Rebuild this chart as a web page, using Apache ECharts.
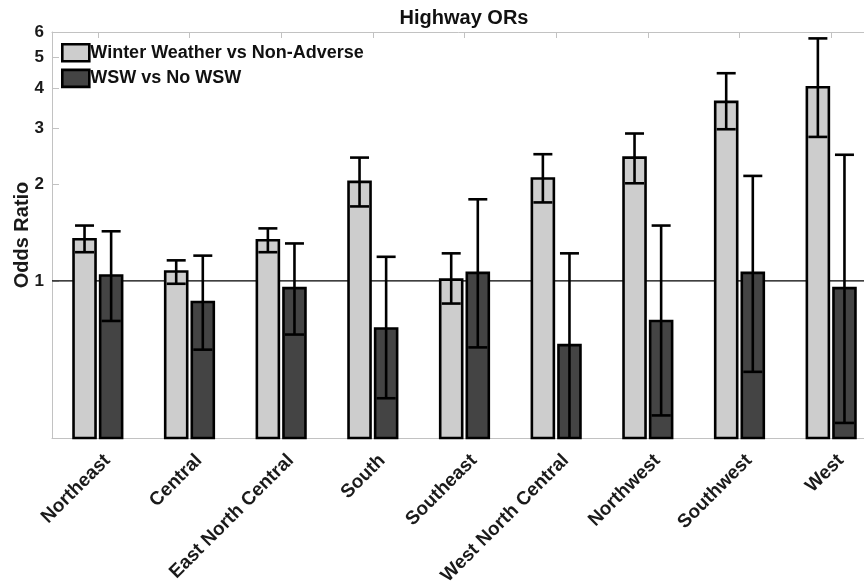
<!DOCTYPE html>
<html>
<head>
<meta charset="utf-8">
<script src="https://cdn.jsdelivr.net/npm/echarts@6/dist/echarts.min.js"></script>
<style>
  html, body { margin: 0; padding: 0; background: #fff; }
  #chart { width: 864px; height: 584px; }
</style>
</head>
<body>
<div id="chart"></div>
<script>
// Regions along the x axis
const regions = ['Northeast', 'Central', 'East North Central', 'South', 'Southeast',
                 'West North Central', 'Northwest', 'Southwest', 'West'];

// Winter weather vs non-adverse conditions: odds ratio and 95% CI
const weatherOR = [1.35, 1.07, 1.34, 2.04, 1.01, 2.09, 2.43, 3.63, 4.03];
const weatherLo = [1.23, 0.98, 1.23, 1.71, 0.85, 1.76, 2.02, 2.98, 2.82];
const weatherHi = [1.49, 1.16, 1.46, 2.43, 1.22, 2.49, 2.89, 4.46, 5.73];

// Winter storm warning vs no warning: odds ratio and 95% CI
const wswOR = [1.04, 0.86, 0.95, 0.71, 1.06, 0.63, 0.75, 1.06, 0.95];
const wswLo = [0.75, 0.61, 0.68, 0.43, 0.62, 0.30, 0.38, 0.52, 0.36];
const wswHi = [1.43, 1.20, 1.31, 1.19, 1.80, 1.22, 1.49, 2.13, 2.48];

// Odds-ratio tick values on the log axis
const yTicks = [1, 2, 3, 4, 5, 6];
const referenceOR = 1;

const Y_MIN = 0.323, Y_MAX = 6;
const FONT = '"Liberation Sans", Arial, Helvetica, sans-serif';
const LIGHT = '#cdcdcd', DARK = '#444444';
const BAR_W = 22;        // bar width, px
const HALF_PAIR = 13.3;  // offset of each bar from the category centre, px
const CAP_W = 19;        // error-bar cap width, px
const LW = 2.6;          // outline / whisker thickness

const chart = echarts.init(document.getElementById('chart'));

// Bars rise from the bottom of the log axis up to the odds ratio
function barRenderer(offset, fill) {
  return function (params, api) {
    const cat = api.value(0);
    const top = api.coord([cat, api.value(1)]);
    const cs = params.coordSys;
    const bottom = cs.y + cs.height;
    return {
      type: 'rect',
      shape: { x: top[0] + offset - BAR_W / 2, y: top[1], width: BAR_W, height: bottom - top[1] },
      style: { fill: fill, stroke: '#000', lineWidth: LW }
    };
  };
}

// Whisker from lower to upper CI with caps; the lower cap is dropped when it falls below the axis
function errRenderer(offset) {
  return function (params, api) {
    const cat = api.value(0);
    const lo = api.coord([cat, api.value(1)]);
    const hi = api.coord([cat, api.value(2)]);
    const cs = params.coordSys;
    const bottom = cs.y + cs.height;
    const x = lo[0] + offset;
    const yLo = Math.min(lo[1], bottom);
    const st = { stroke: '#000', lineWidth: LW };
    const children = [
      { type: 'line', shape: { x1: x, y1: yLo, x2: x, y2: hi[1] }, style: st },
      { type: 'line', shape: { x1: x - CAP_W / 2, y1: hi[1], x2: x + CAP_W / 2, y2: hi[1] }, style: st }
    ];
    if (lo[1] <= bottom) {
      children.push({ type: 'line', shape: { x1: x - CAP_W / 2, y1: lo[1], x2: x + CAP_W / 2, y2: lo[1] }, style: st });
    }
    return { type: 'group', children: children };
  };
}

// Horizontal line at OR = 1 across the whole plot
function refRenderer(params, api) {
  const cs = params.coordSys;
  const p = api.coord([0, api.value(1)]);
  return {
    type: 'line',
    shape: { x1: cs.x, y1: p[1], x2: cs.x + cs.width, y2: p[1] },
    style: { stroke: '#000', lineWidth: 1.2 }
  };
}

const weatherBars = regions.map((_, i) => [i, weatherOR[i]]);
const wswBars = regions.map((_, i) => [i, wswOR[i]]);
const weatherErr = regions.map((_, i) => [i, weatherLo[i], weatherHi[i]]);
const wswErr = regions.map((_, i) => [i, wswLo[i], wswHi[i]]);

const axisGrey = '#c2c2c2';

chart.setOption({
  animation: false,
  backgroundColor: '#fff',
  textStyle: { fontFamily: FONT },
  graphic: [{
    type: 'text',
    x: 464, y: 18,
    style: {
      text: 'Highway ORs', textAlign: 'center', textVerticalAlign: 'middle',
      font: 'bold 20px ' + FONT, fill: '#111'
    }
  }],
  legend: {
    orient: 'vertical',
    left: 61, top: 43,
    itemWidth: 27, itemHeight: 17, itemGap: 6,
    padding: 0,
    textStyle: { fontSize: 18, fontWeight: 'bold', color: '#111', fontFamily: FONT, padding: [0, 0, 0, -4] },
    data: [
      { name: 'Winter Weather vs Non-Adverse', icon: 'rect',
        itemStyle: { color: LIGHT, borderColor: '#000', borderWidth: LW } },
      { name: 'WSW vs No WSW', icon: 'rect',
        itemStyle: { color: DARK, borderColor: '#000', borderWidth: LW } }
    ],
    selectedMode: false
  },
  grid: { left: 52, top: 32, width: 825, height: 406, containLabel: false, outerBoundsMode: 'none' },
  xAxis: [{
    type: 'category',
    data: regions,
    position: 'bottom',
    axisLine: { show: true, lineStyle: { color: axisGrey, width: 1 } },
    axisTick: { show: false },
    axisLabel: {
      rotate: 45, interval: 0, margin: 10,
      fontSize: 19, fontWeight: 'bold', color: '#1a1a1a', fontFamily: FONT,
      verticalAlign: 'top', padding: [4, 0, 0, 0]
    }
  }, {
    type: 'category',
    data: regions,
    position: 'top',
    axisLine: { show: true, lineStyle: { color: axisGrey, width: 1 } },
    axisTick: { show: true, inside: true, alignWithLabel: true, interval: 0, length: 6, lineStyle: { color: axisGrey } },
    axisLabel: { show: false }
  }],
  yAxis: {
    type: 'log',
    min: Y_MIN, max: Y_MAX,
    axisLine: { show: true, lineStyle: { color: axisGrey, width: 1 } },
    axisTick: { show: true, inside: true, length: 7, customValues: yTicks, lineStyle: { color: axisGrey } },
    axisLabel: {
      customValues: yTicks, margin: 8,
      fontSize: 17, fontWeight: 'bold', color: '#1a1a1a', fontFamily: FONT
    },
    splitLine: { show: false },
    minorTick: { show: false },
    name: 'Odds Ratio',
    nameLocation: 'middle',
    nameGap: 20,
    nameMoveOverlap: false,
    nameTextStyle: { fontSize: 20, fontWeight: 'bold', color: '#1a1a1a', fontFamily: FONT }
  },
  series: [
    { type: 'custom', name: 'ref', z: 1, data: [[0, referenceOR]], renderItem: refRenderer, silent: true },
    { type: 'custom', name: 'Winter Weather vs Non-Adverse', z: 3, data: weatherBars,
      itemStyle: { color: LIGHT }, renderItem: barRenderer(-HALF_PAIR, LIGHT) },
    { type: 'custom', name: 'WSW vs No WSW', z: 3, data: wswBars,
      itemStyle: { color: DARK }, renderItem: barRenderer(HALF_PAIR, DARK) },
    { type: 'custom', name: 'weatherCI', z: 4, data: weatherErr, renderItem: errRenderer(-HALF_PAIR), silent: true },
    { type: 'custom', name: 'wswCI', z: 4, data: wswErr, renderItem: errRenderer(HALF_PAIR), silent: true }
  ]
});
</script>
</body>
</html>
